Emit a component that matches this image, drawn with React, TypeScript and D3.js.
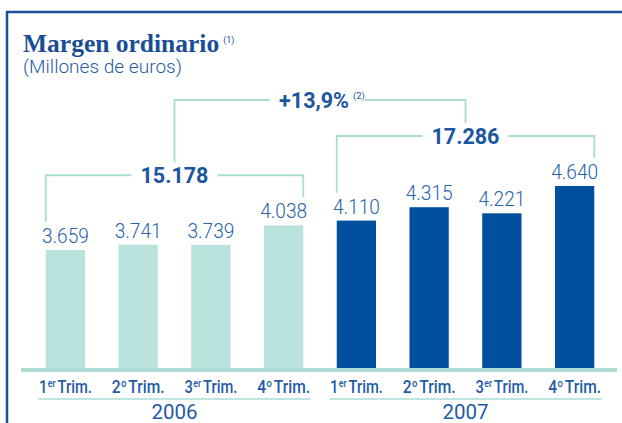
import { useEffect, useRef } from 'react';
import * as d3 from 'd3';

const years = ['2006', '2007'];
const quarterNum = ['1', '2', '3', '4'];
const quarterSup = ['er', 'o', 'er', 'o'];
const values2006 = [3659, 3741, 3739, 4038];
const values2007 = [4110, 4315, 4221, 4640];
const totals = [15178, 17286];
const growthLabel = '+13,9%';

const W = 622;
const H = 423;
const frameBlue = '#1d4f98';
const textBlue = '#1f5ba7';
const lightTeal = '#b9e2dc';
const lineTeal = '#a9dcd4';
const darkBlue = '#00509e';

const esFormat = d3.formatLocale({ decimal: ',', thousands: '.', grouping: [3], currency: ['', ' €'] }).format(',');

export default function App() {
  const ref = useRef<SVGSVGElement>(null);

  useEffect(() => {
    if (!ref.current) return;
    const svg = d3.select(ref.current);
    svg.selectAll('*').remove();

    const groups = [values2006, values2007];
    const rows = groups.flatMap((vals, gi) =>
      vals.map((v, qi) => ({ key: `${years[gi]}-${qi}`, year: years[gi], gi, qi, value: v }))
    );

    const x = d3.scaleBand().domain(rows.map(d => d.key)).range([29, 611]).paddingInner(0.46).paddingOuter(0.23);
    const y = d3.scaleLinear().domain([1850, 4640]).range([368, 186]);
    const bw = x.bandwidth();

    // frame
    svg.append('path').attr('d', `M7,${H} V12 H${W}`).attr('fill', 'none')
      .attr('stroke', frameBlue).attr('stroke-width', 2.5);

    // title
    const title = svg.append('text').attr('x', 23).attr('y', 52)
      .attr('font-family', '"Liberation Serif", serif').attr('font-weight', 700)
      .attr('font-size', 25.5).attr('fill', '#1b4d96');
    title.append('tspan').text('Margen ordinario');
    title.append('tspan').attr('dx', 4).attr('dy', -9).attr('font-size', 9)
      .attr('font-family', 'Roboto, sans-serif').attr('font-weight', 400).text('(1)');

    svg.append('text').attr('x', 23).attr('y', 73)
      .attr('font-family', 'Roboto, sans-serif').attr('font-weight', 300)
      .attr('font-size', 18).attr('fill', textBlue)
      .attr('textLength', 159).attr('lengthAdjust', 'spacingAndGlyphs')
      .text('(Millones de euros)');

    // bars
    svg.append('g').selectAll('rect').data(rows).enter().append('rect')
      .attr('x', d => x(d.key)!).attr('width', bw)
      .attr('y', d => y(d.value)).attr('height', d => 368 - y(d.value))
      .attr('fill', d => d.gi === 0 ? lightTeal : darkBlue);

    // baseline
    svg.append('line').attr('x1', 21).attr('x2', 617).attr('y1', 370).attr('y2', 370)
      .attr('stroke', '#abdbd3').attr('stroke-width', 4);

    // value labels
    svg.append('g').selectAll('text').data(rows).enter().append('text')
      .attr('x', d => x(d.key)! + bw / 2).attr('y', d => y(d.value) - 7)
      .attr('text-anchor', 'middle').attr('font-family', 'Roboto, sans-serif')
      .attr('font-weight', 300).attr('font-size', 20.5).attr('fill', '#2563ad')
      .attr('textLength', 47).attr('lengthAdjust', 'spacingAndGlyphs')
      .text(d => esFormat(d.value));

    // category labels: number, superscript and "Trim." side by side, squeezed to a condensed width
    rows.forEach(d => {
      const g = svg.append('g').attr('font-family', 'Roboto, sans-serif')
        .attr('font-weight', 500).attr('fill', textBlue);
      const num = g.append('text').attr('font-size', 19).text(quarterNum[d.qi]);
      const nw = (num.node() as SVGTextElement).getComputedTextLength();
      const sup = g.append('text').attr('x', nw + 0.5).attr('y', -6).attr('font-size', 11.5).text(quarterSup[d.qi]);
      const sw = (sup.node() as SVGTextElement).getComputedTextLength();
      const trim = g.append('text').attr('x', nw + sw + 3).attr('font-size', 19).text('Trim.');
      const tw = nw + sw + 3 + (trim.node() as SVGTextElement).getComputedTextLength();
      const sx = 53 / tw;
      g.attr('transform', `translate(${x(d.key)! + bw / 2 - 26.5},393) scale(${sx},1)`);
    });

    // year underlines, labels and total brackets
    const bracketY: number[] = [];
    const bracketMid: number[] = [];
    groups.forEach((vals, gi) => {
      const gRows = rows.filter(r => r.gi === gi);
      const first = gRows[0];
      const last = gRows[gRows.length - 1];
      const cx0 = x(first.key)! + bw / 2 - 27;
      const cx1 = x(last.key)! + bw / 2 + 27;
      svg.append('line').attr('x1', cx0).attr('x2', cx1).attr('y1', 399).attr('y2', 399)
        .attr('stroke', lineTeal).attr('stroke-width', 1.5);
      svg.append('text').attr('x', (cx0 + cx1) / 2).attr('y', 419).attr('text-anchor', 'middle')
        .attr('font-family', 'Roboto, sans-serif').attr('font-weight', 400)
        .attr('font-size', 20.5).attr('fill', textBlue).text(years[gi]);

      const left = x(first.key)!;
      const right = x(last.key)! + bw;
      const by = y(d3.max(vals)!) - 50;
      const mid = (left + right) / 2;
      bracketY.push(by);
      bracketMid.push(mid);
      const tt = svg.append('text').attr('x', mid).attr('y', by + 7.5).attr('text-anchor', 'middle')
        .attr('font-family', 'Roboto, sans-serif').attr('font-weight', 700)
        .attr('font-size', 21.5).attr('fill', '#1b56a0').text(esFormat(totals[gi]));
      const tw = (tt.node() as SVGTextElement).getComputedTextLength();
      const path = d3.path();
      path.moveTo(left, y(first.value) - 28);
      path.lineTo(left, by);
      path.lineTo(mid - tw / 2 - 9, by);
      path.moveTo(mid + tw / 2 + 9, by);
      path.lineTo(right, by);
      path.lineTo(right, y(last.value) - 28);
      svg.append('path').attr('d', path.toString()).attr('fill', 'none')
        .attr('stroke', lineTeal).attr('stroke-width', 1.8);
    });

    // growth bracket
    const gy = bracketY[1] - 36;
    const gMid = (bracketMid[0] + bracketMid[1]) / 2;
    const gt = svg.append('text').attr('y', gy + 7.5)
      .attr('font-family', 'Roboto, sans-serif').attr('font-weight', 700)
      .attr('font-size', 21.5).attr('fill', '#1b56a0');
    gt.append('tspan').text(growthLabel);
    gt.append('tspan').attr('dx', 4).attr('dy', -9).attr('font-size', 9.5).attr('font-weight', 400).text('(2)');
    const gw = (gt.node() as SVGTextElement).getComputedTextLength();
    gt.attr('x', gMid - gw / 2);
    const gp = d3.path();
    gp.moveTo(bracketMid[0], bracketY[0] - 13);
    gp.lineTo(bracketMid[0], gy);
    gp.lineTo(gMid - gw / 2 - 9, gy);
    gp.moveTo(gMid + gw / 2 + 4, gy);
    gp.lineTo(bracketMid[1], gy);
    gp.lineTo(bracketMid[1], bracketY[1] - 13);
    svg.append('path').attr('d', gp.toString()).attr('fill', 'none')
      .attr('stroke', lineTeal).attr('stroke-width', 1.8);
  }, []);

  return (
    <svg ref={ref} width={W} height={H}
      style={{ position: 'absolute', left: 0, top: 0, background: '#fff', display: 'block' }} />
  );
}
